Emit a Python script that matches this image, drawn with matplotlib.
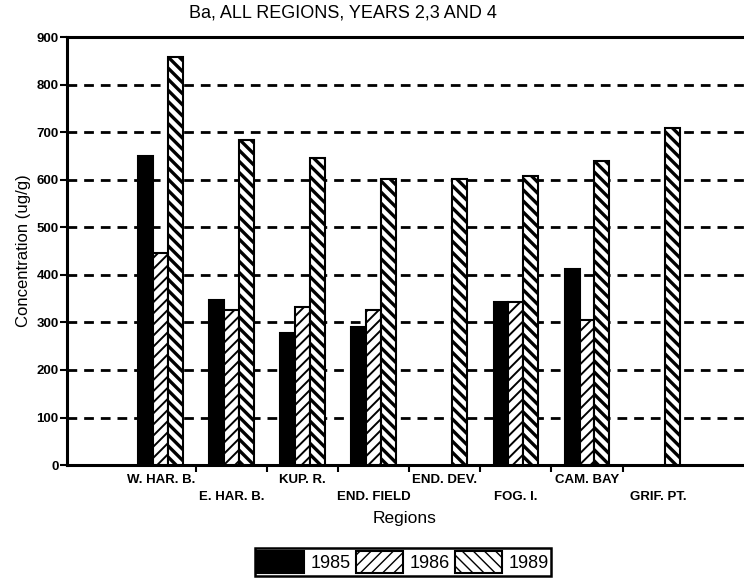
import matplotlib
matplotlib.use('Agg')
import matplotlib.pyplot as plt
import matplotlib.transforms as mtransforms
from matplotlib.patches import Patch
import numpy as np

regions = ['W. HAR. B.', 'E. HAR. B.', 'KUP. R.', 'END. FIELD',
           'END. DEV.', 'FOG. I.', 'CAM. BAY', 'GRIF. PT.']
years = ['1985', '1986', '1989']
ba_1985 = [650, 348, 278, 290, np.nan, 343, 412, np.nan]
ba_1986 = [446, 327, 332, 327, np.nan, 343, 306, np.nan]
ba_1989 = [857, 683, 645, 602, 602, 607, 640, 709]
yticks = [0, 100, 200, 300, 400, 500, 600, 700, 800, 900]

plt.rcParams['font.family'] = ['Liberation Sans', 'DejaVu Sans']

# fill, hatch, hatch line width for each year
styles = [('black', None, 1.0),
          ('white', '///', 1.4),
          ('white', '\\\\\\', 2.4)]


def main():
    fig = plt.figure(figsize=(7.44, 5.88), dpi=100)
    ax = fig.add_axes([0.090, 0.209, 0.910, 0.728])

    x = np.arange(len(regions))
    w = 0.21
    series = [ba_1985, ba_1986, ba_1989]
    handles = []
    for k, (vals, (fc, hatch, hlw)) in enumerate(zip(series, styles)):
        with plt.rc_context({'hatch.linewidth': hlw}):
            ax.bar(x + (k - 1) * w, vals, w, color=fc, edgecolor='black',
                   linewidth=1.5, hatch=hatch, zorder=3)
            handles.append(Patch(facecolor=fc, edgecolor='black',
                                 hatch=hatch, linewidth=1.5))

    ax.set_xlim(-1.32, 8.21)
    ax.set_ylim(0, 900)
    ax.set_yticks(yticks)
    ax.set_yticklabels([str(t) for t in yticks], fontsize=9.5, fontweight='bold')
    for yv in yticks[1:-1]:
        ax.axhline(yv, color='black', linestyle=(0, (3.5, 2.5)),
                   linewidth=2.0, zorder=1)

    ax.set_xticks(x[:-1] + 0.5)
    ax.set_xticklabels([])
    ax.tick_params(axis='both', direction='out', length=5, width=1.5)
    ax.tick_params(axis='y', pad=1)

    for side in ['left', 'bottom', 'top']:
        ax.spines[side].set_linewidth(2.2)
    ax.spines['right'].set_visible(False)

    trans = mtransforms.blended_transform_factory(ax.transData, fig.transFigure)
    for i, name in enumerate(regions):
        yy = 1 - 480 / 588 if i % 2 == 0 else 1 - 497 / 588
        ax.text(i, yy, name, transform=trans, ha='center', va='center',
                fontsize=9.5, fontweight='bold')

    fig.text(0.544, 1 - 518 / 588, 'Regions', ha='center', va='center',
             fontsize=12.5)
    ax.set_ylabel('Concentration (ug/g)', fontsize=12, labelpad=4)
    fig.text(0.461, 1 - 13 / 588, 'Ba, ALL REGIONS, YEARS 2,3 AND 4',
             ha='center', va='center', fontsize=13)

    leg = fig.legend(handles, years, loc='center', ncol=3,
                     bbox_to_anchor=(403 / 744, 1 - 562 / 588),
                     fontsize=13, handlelength=2.6, handleheight=1.5,
                     handletextpad=0.35, columnspacing=0.3, borderpad=0.15,
                     fancybox=False, edgecolor='black', framealpha=1)
    leg.get_frame().set_linewidth(1.8)

    fig.savefig('out.png', dpi=100)


if __name__ == '__main__':
    main()
